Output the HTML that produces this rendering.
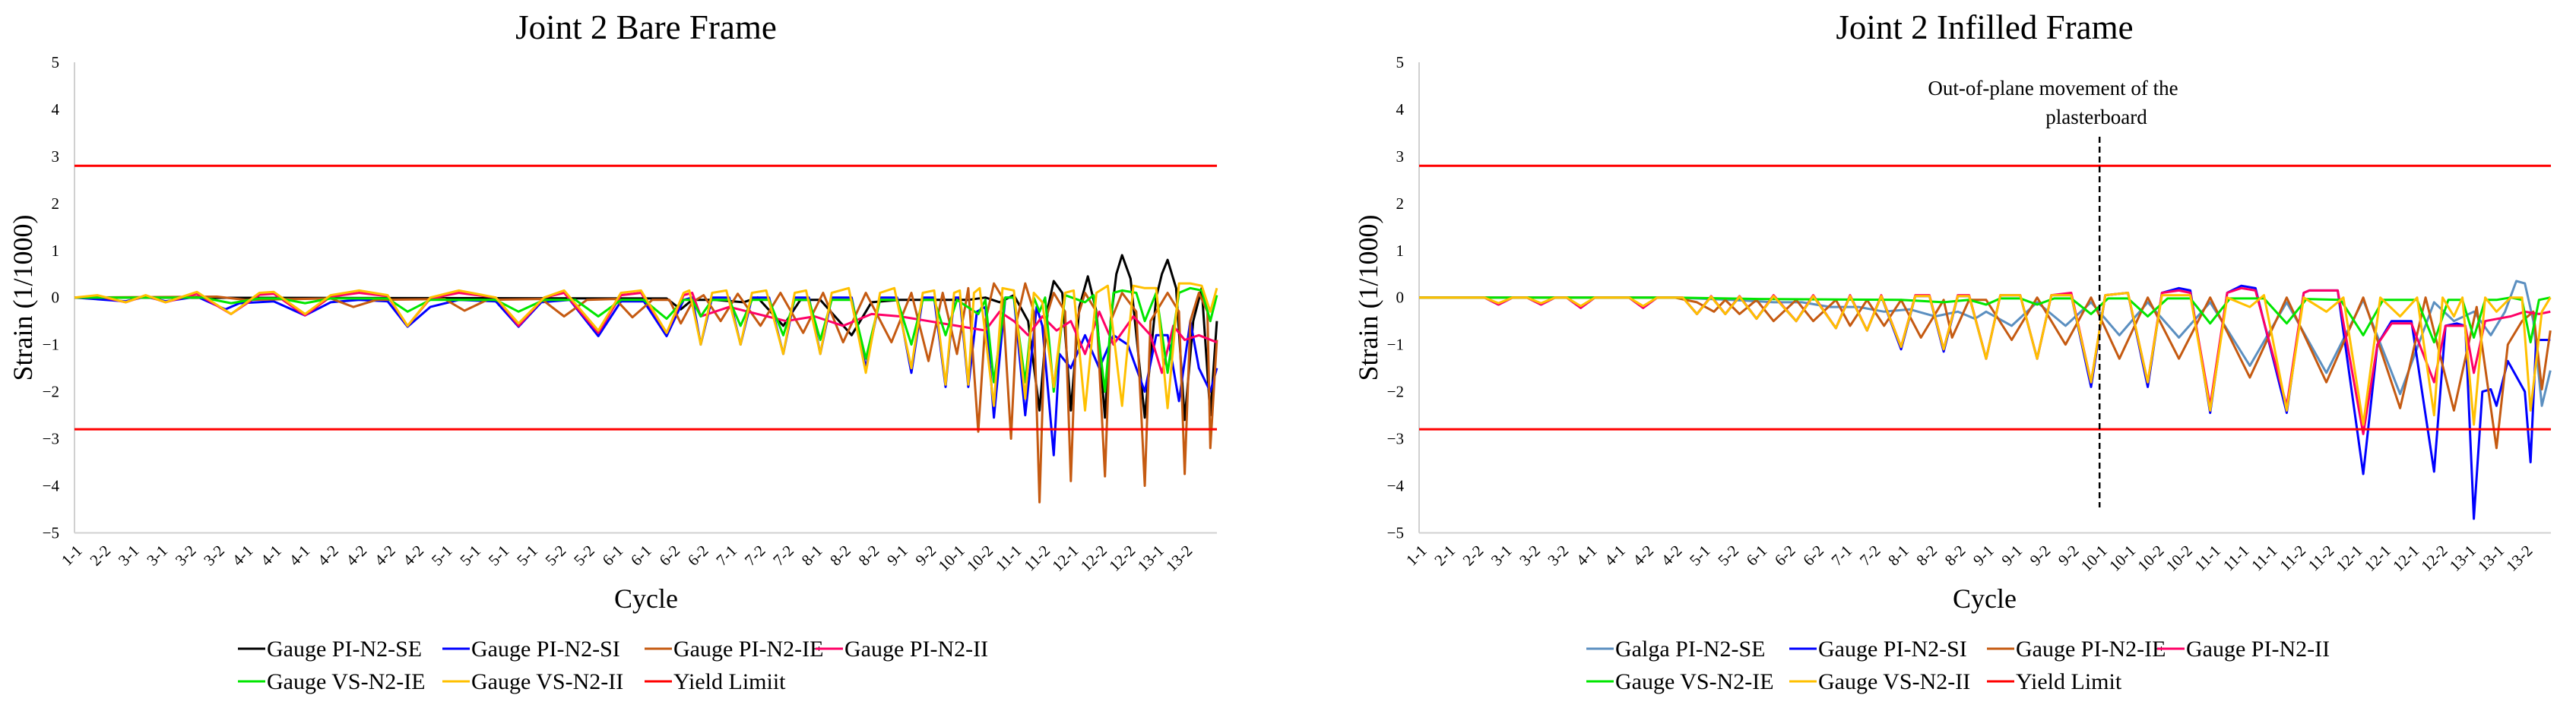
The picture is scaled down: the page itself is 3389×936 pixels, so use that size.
<!DOCTYPE html>
<html><head><meta charset="utf-8">
<style>
html,body{margin:0;padding:0;background:#fff;}
svg{display:block;font-family:"Liberation Serif","Times New Roman",serif;}
</style></head>
<body>
<svg id="fig" width="3389" height="936" viewBox="0 0 3389 936" xmlns="http://www.w3.org/2000/svg">
  <rect x="0" y="0" width="3389" height="936" fill="#fff"/>
  <g id="left">
    <text x="850" y="51" font-size="45" text-anchor="middle">Joint 2 Bare Frame</text>
    <text transform="translate(42,392) rotate(-90)" font-size="36" text-anchor="middle">Strain (1/1000)</text>
    <text x="850" y="800" font-size="36" text-anchor="middle">Cycle</text>
  </g>
  <g id="right">
    <text x="2611" y="51" font-size="45" text-anchor="middle">Joint 2 Infilled Frame</text>
    <text transform="translate(1812,392) rotate(-90)" font-size="36" text-anchor="middle">Strain (1/1000)</text>
    <text x="2611" y="800" font-size="36" text-anchor="middle">Cycle</text>
    <text x="2701" y="125" font-size="27" text-anchor="middle">Out-of-plane movement of the</text>
    <text x="2758" y="163" font-size="27" text-anchor="middle">plasterboard</text>
  </g>
  <g id="legend-left" font-size="30"></g>
  <g id="legend-right" font-size="30"></g>
</svg>
<script>
const NS = "http://www.w3.org/2000/svg";
const leftCats = ["1-1","2-2","3-1","3-1","3-2","3-2","4-1","4-1","4-1","4-2","4-2","4-2","4-2","5-1","5-1","5-1","5-1","5-2","5-2","6-1","6-1","6-2","6-2","7-1","7-2","7-2","8-1","8-2","8-2","9-1","9-2","10-1","10-2","11-1","11-2","12-1","12-2","12-2","13-1","13-2"];
const rightCats = ["1-1","2-1","2-2","3-1","3-2","3-2","4-1","4-1","4-2","4-2","5-1","5-2","6-1","6-2","6-2","7-1","7-2","8-1","8-2","8-2","9-1","9-1","9-2","9-2","10-1","10-1","10-2","10-2","11-1","11-1","11-1","11-2","11-2","12-1","12-1","12-1","12-2","13-1","13-1","13-2"];
const yTicks = [5,4,3,2,1,0,-1,-2,-3,-4,-5];
const yieldLimit = 2.8;
const markerCycle = 24;

const bareSE = [[0,0],[20.8,-0.02],[21.3,-0.25],[21.7,-0.05],[22.5,-0.05],[23.5,-0.1],[24.0,0],[24.9,-0.6],[25.5,-0.05],[26.2,-0.05],[27.3,-0.8],[28,-0.1],[29,-0.05],[30.6,-0.05],[31.4,-0.05],[32,0],[32.5,-0.1],[33.0,0.05],[33.5,-0.5],[33.9,-2.4],[34.2,-0.2],[34.4,0.35],[34.7,0.1],[35.0,-2.4],[35.3,-0.2],[35.6,0.45],[35.9,-0.3],[36.2,-2.55],[36.4,-0.5],[36.6,0.5],[36.8,0.9],[37.1,0.4],[37.6,-2.55],[38.0,0.0],[38.2,0.5],[38.4,0.8],[38.7,0.2],[39.0,-2.6],[39.3,-0.5],[39.6,0.2],[39.9,-2.5],[40.13,-0.5]];
const bareSI = [[0,0],[1.8,-0.08],[2.5,0.02],[3.2,-0.08],[4.3,0.02],[5.3,-0.25],[5.8,-0.12],[7,-0.08],[8.1,-0.38],[9,-0.1],[10,-0.05],[11,-0.08],[11.7,-0.62],[12.5,-0.2],[13.5,-0.05],[14.8,-0.08],[15.6,-0.62],[16.4,-0.1],[17.4,-0.05],[18.4,-0.82],[19.2,-0.08],[20,-0.08],[20.8,-0.82],[21.4,-0.05],[21.7,0],[22.0,-1.0],[22.4,0],[23.0,0],[23.4,-1.0],[23.8,0],[24.4,0],[24.9,-1.2],[25.3,0],[25.8,0],[26.2,-1.2],[26.6,0],[27.3,0],[27.8,-1.5],[28.3,0],[28.9,0],[29.4,-1.6],[29.8,0],[30.2,0],[30.6,-1.9],[30.9,0],[31.1,0],[31.4,-1.9],[31.7,-0.3],[32.0,-0.2],[32.3,-2.55],[32.7,0],[33.0,0],[33.4,-2.5],[33.8,-0.2],[34.0,-0.6],[34.4,-3.35],[34.6,-1.2],[35.0,-1.5],[35.5,-0.8],[36.0,-1.5],[36.5,-0.8],[37.0,-1.0],[37.6,-2.0],[38.0,-0.8],[38.4,-0.8],[38.8,-2.2],[39.2,-0.5],[39.5,-1.5],[39.9,-2.0],[40.13,-1.5]];
const bareIE = [[0,0],[5,0.02],[6,-0.05],[9,-0.02],[9.8,-0.2],[10.6,-0.05],[13,-0.03],[13.7,-0.28],[14.5,-0.05],[16.4,-0.03],[17.2,-0.4],[18.0,-0.05],[19.0,-0.03],[19.6,-0.42],[20.3,-0.05],[20.9,-0.05],[21.3,-0.55],[21.7,-0.1],[22.1,0.05],[22.7,-0.5],[23.3,0.08],[24.1,-0.6],[24.8,0.1],[25.6,-0.75],[26.3,0.1],[27.0,-0.95],[27.8,0.1],[28.7,-0.95],[29.4,0.1],[30.0,-1.35],[30.5,0.1],[31.0,-1.2],[31.4,0.2],[31.75,-2.85],[32.0,-0.5],[32.3,0.3],[32.6,0],[32.9,-3.0],[33.1,-0.5],[33.4,0.3],[33.7,-0.3],[33.9,-4.35],[34.1,-0.5],[34.4,0.1],[34.8,-0.3],[35.0,-3.9],[35.2,-0.5],[35.5,0.1],[35.9,-0.3],[36.2,-3.8],[36.4,-0.5],[36.8,0.1],[37.3,-0.3],[37.6,-4.0],[37.8,-0.5],[38.4,0.1],[38.8,-0.3],[39.0,-3.75],[39.2,-0.5],[39.5,0.1],[39.8,-0.3],[39.9,-3.2],[40.13,-0.9]];
const bareII = [[0,0],[0.8,0.03],[1.8,-0.1],[2.5,0.04],[3.2,-0.1],[4.3,0.08],[5.5,-0.35],[6.5,0.06],[7,0.08],[8.1,-0.38],[9,0.02],[10,0.1],[11,0.03],[11.7,-0.6],[12.5,-0.02],[13.5,0.1],[14.8,0],[15.6,-0.6],[16.5,0],[17.2,0.1],[18.4,-0.75],[19.2,0.05],[19.9,0.1],[20.8,-0.75],[21.4,0.05],[21.7,0.1],[22.0,-0.4],[23.0,-0.2],[24.0,-0.35],[25.0,-0.5],[26.0,-0.4],[27.0,-0.6],[28.0,-0.35],[29.0,-0.4],[30.0,-0.5],[31.0,-0.6],[32.0,-0.7],[32.5,-0.3],[33.0,-0.5],[33.5,-0.8],[34.0,-0.4],[34.5,-0.7],[35.0,-0.5],[35.5,-1.2],[36.0,-0.3],[36.5,-1.0],[37.2,-0.4],[37.8,-0.8],[38.2,-1.6],[38.6,-0.6],[39.0,-0.9],[39.5,-0.8],[40.13,-0.95]];
const bareVSIE = [[0,0],[4.5,0],[5.5,-0.12],[6.5,-0.02],[7.2,-0.02],[8.1,-0.12],[9,-0.02],[11,-0.02],[11.7,-0.3],[12.5,-0.05],[14.8,-0.05],[15.6,-0.3],[16.5,-0.05],[17.6,-0.05],[18.4,-0.4],[19.2,-0.05],[20.0,-0.05],[20.8,-0.45],[21.4,-0.05],[21.7,-0.05],[22.0,-0.4],[22.4,-0.05],[23.0,-0.05],[23.4,-0.6],[23.8,-0.05],[24.4,-0.05],[24.9,-0.8],[25.3,-0.05],[25.8,-0.05],[26.2,-0.9],[26.6,-0.05],[27.3,-0.05],[27.8,-1.3],[28.3,-0.05],[28.9,-0.05],[29.4,-1.0],[29.8,-0.05],[30.2,-0.05],[30.6,-0.8],[31.0,-0.05],[31.75,-0.35],[32.0,-0.05],[32.3,-1.8],[32.7,0.0],[33.0,0.0],[33.4,-1.8],[33.7,0.0],[33.9,-0.3],[34.1,0.0],[34.4,-2.0],[34.8,0.05],[35.5,-0.1],[35.8,0.05],[36.2,-2.0],[36.5,0.1],[36.8,0.15],[37.3,0.1],[37.6,-0.5],[38.0,0.1],[38.4,-1.6],[38.8,0.1],[39.2,0.2],[39.6,0.15],[39.9,-0.5],[40.13,0.05]];
const bareVSII = [[0,0],[0.8,0.05],[1.8,-0.1],[2.5,0.05],[3.2,-0.1],[4.3,0.12],[5.5,-0.35],[6.5,0.1],[7,0.12],[8.1,-0.35],[9,0.05],[10,0.15],[11,0.05],[11.7,-0.6],[12.5,0],[13.5,0.15],[14.8,0],[15.6,-0.55],[16.5,0],[17.2,0.15],[18.4,-0.7],[19.2,0.1],[19.9,0.15],[20.8,-0.75],[21.4,0.1],[21.6,0.15],[22.0,-1.0],[22.4,0.1],[22.9,0.15],[23.4,-1.0],[23.8,0.1],[24.3,0.15],[24.9,-1.2],[25.3,0.1],[25.7,0.15],[26.2,-1.2],[26.6,0.1],[27.2,0.2],[27.8,-1.6],[28.3,0.1],[28.8,0.2],[29.4,-1.5],[29.8,0.1],[30.2,0.15],[30.6,-1.85],[30.9,0.1],[31.1,0.15],[31.4,-1.85],[31.6,0.1],[31.8,0.2],[32.3,-2.3],[32.6,0.2],[33.0,0.15],[33.4,-2.15],[33.7,0.1],[34.0,-0.1],[34.4,-1.9],[34.8,0.1],[35.1,0.15],[35.5,-2.4],[35.9,0.1],[36.3,0.25],[36.8,-2.3],[37.2,0.25],[37.6,0.2],[38.0,0.2],[38.4,-2.35],[38.8,0.3],[39.2,0.3],[39.6,0.25],[39.9,-0.3],[40.13,0.2]];

const infSE = [[0,0],[9,0],[11,-0.05],[12.5,-0.1],[13.5,-0.1],[14.5,-0.2],[15.5,-0.2],[16.4,-0.3],[17.3,-0.25],[18.2,-0.4],[19.0,-0.3],[19.6,-0.45],[20.0,-0.3],[20.9,-0.6],[21.8,-0.1],[22.8,-0.6],[23.7,-0.1],[24.7,-0.8],[25.7,-0.1],[26.8,-0.85],[27.9,-0.1],[29.3,-1.45],[30.6,-0.1],[32.0,-1.6],[33.3,-0.05],[34.6,-2.05],[35.8,-0.1],[36.5,-0.5],[37.2,-0.3],[37.8,-0.8],[38.3,-0.3],[38.7,0.35],[39.0,0.3],[39.3,-0.5],[39.6,-2.3],[39.9,-1.55]];
const infSI = [[0,0],[2.3,0],[2.8,-0.15],[3.3,0],[3.8,0],[4.3,-0.15],[4.8,0],[5.2,0],[5.7,-0.22],[6.2,0],[7.4,0],[7.9,-0.22],[8.4,0],[9.3,0],[9.8,-0.35],[10.3,0.02],[10.8,-0.35],[11.3,0.02],[11.9,-0.45],[12.5,0.03],[13.3,-0.5],[13.9,0.03],[14.7,-0.65],[15.2,0.03],[15.8,-0.7],[16.3,0.03],[17.0,-1.1],[17.5,0.03],[18.0,0.03],[18.5,-1.15],[19.0,0.03],[19.4,0.03],[20.0,-1.3],[20.5,0.05],[21.2,0.05],[21.8,-1.3],[22.3,0.05],[23.0,0.05],[23.7,-1.9],[24.2,0.05],[25.0,0.1],[25.7,-1.9],[26.2,0.1],[26.8,0.2],[27.2,0.15],[27.9,-2.45],[28.5,0.1],[29.0,0.25],[29.5,0.2],[30.6,-2.45],[31.2,0.1],[31.4,0.15],[32.4,0.15],[33.3,-3.75],[33.8,-1.0],[34.3,-0.5],[35.0,-0.5],[35.8,-3.7],[36.2,-0.6],[36.6,-0.55],[36.9,-0.6],[37.2,-4.7],[37.5,-2.0],[37.8,-1.95],[38.0,-2.3],[38.4,-1.35],[39.0,-2.0],[39.2,-3.5],[39.4,-0.9],[39.9,-0.9]];
const infIE = [[0,0],[9,0],[9.8,-0.1],[10.4,-0.3],[10.8,-0.05],[11.3,-0.35],[11.9,-0.05],[12.5,-0.5],[13.3,-0.05],[13.9,-0.5],[14.7,-0.05],[15.2,-0.6],[15.8,-0.05],[16.4,-0.6],[17.0,-0.05],[17.7,-0.85],[18.5,-0.05],[18.8,-0.85],[19.4,-0.05],[20.0,-0.05],[20.9,-0.9],[21.8,0.0],[22.8,-1.0],[23.7,0.0],[24.7,-1.3],[25.7,0.0],[26.8,-1.3],[27.9,0.0],[29.3,-1.7],[30.6,0.0],[32.0,-1.8],[33.3,0.0],[34.6,-2.35],[35.5,0.0],[36.5,-2.4],[37.3,-0.2],[38.0,-3.2],[38.4,-1.0],[38.9,-0.5],[39.3,-0.3],[39.6,-1.95],[39.9,-0.7]];
const infII = [[0,0],[2.3,0],[2.8,-0.15],[3.3,0],[3.8,0],[4.3,-0.15],[4.8,0],[5.2,0],[5.7,-0.22],[6.2,0],[7.4,0],[7.9,-0.22],[8.4,0],[9.3,0],[9.8,-0.35],[10.3,0.03],[10.8,-0.35],[11.3,0.03],[11.9,-0.45],[12.5,0.05],[13.3,-0.5],[13.9,0.05],[14.7,-0.65],[15.2,0.05],[15.8,-0.7],[16.3,0.05],[17.0,-1.05],[17.5,0.05],[18.0,0.05],[18.5,-1.1],[19.0,0.05],[19.4,0.05],[20.0,-1.3],[20.5,0.05],[21.2,0.05],[21.8,-1.3],[22.3,0.05],[23.0,0.1],[23.7,-1.8],[24.2,0.05],[25.0,0.1],[25.7,-1.8],[26.2,0.1],[26.8,0.15],[27.2,0.1],[27.9,-2.3],[28.5,0.1],[29.0,0.2],[29.5,0.15],[30.6,-2.3],[31.2,0.1],[31.4,0.15],[32.4,0.15],[33.3,-2.9],[33.8,-1.0],[34.3,-0.55],[35.0,-0.55],[35.8,-1.8],[36.2,-0.6],[36.9,-0.6],[37.2,-1.6],[37.6,-0.5],[38.5,-0.4],[39.0,-0.3],[39.5,-0.35],[39.9,-0.3]];
const infVSIE = [[0,0],[9,0],[12,-0.03],[17,-0.05],[18.5,-0.1],[19.4,-0.05],[20.0,-0.15],[20.5,-0.02],[21.2,-0.02],[21.8,-0.15],[22.4,-0.02],[23.0,-0.02],[23.7,-0.35],[24.3,-0.02],[25.0,-0.02],[25.7,-0.4],[26.4,-0.02],[27.2,-0.02],[27.9,-0.55],[28.6,-0.02],[29.8,-0.02],[30.6,-0.55],[31.3,-0.03],[32.5,-0.05],[33.3,-0.8],[34.0,-0.05],[35.2,-0.05],[35.8,-0.95],[36.3,-0.05],[36.8,-0.05],[37.2,-0.85],[37.6,-0.05],[38.0,-0.05],[38.5,0.0],[38.9,-0.05],[39.2,-0.95],[39.5,-0.05],[39.9,0.0]];
const infVSII = [[0,0],[2.3,0],[2.8,-0.12],[3.3,0],[3.8,0],[4.3,-0.12],[4.8,0],[5.2,0],[5.7,-0.18],[6.2,0],[7.4,0],[7.9,-0.18],[8.4,0],[9.3,0],[9.8,-0.35],[10.3,0.02],[10.8,-0.35],[11.3,0.02],[11.9,-0.45],[12.5,0.03],[13.3,-0.5],[13.9,0.03],[14.7,-0.65],[15.2,0.03],[15.8,-0.7],[16.3,0.03],[17.0,-1.05],[17.5,0.03],[18.0,0.03],[18.5,-1.1],[19.0,0.03],[19.4,0.03],[20.0,-1.3],[20.5,0.05],[21.2,0.05],[21.8,-1.3],[22.3,0.05],[23.0,0.05],[23.7,-1.8],[24.2,0.05],[25.0,0.1],[25.7,-1.8],[26.2,0.05],[27.2,0.05],[27.9,-2.4],[28.5,0.0],[29.3,-0.2],[29.8,0.05],[30.6,-2.4],[31.2,0.0],[32.0,-0.3],[32.6,0.0],[33.3,-2.7],[33.9,0.0],[34.6,-0.4],[35.2,0.0],[35.8,-2.5],[36.1,0.0],[36.5,-0.4],[36.8,0.0],[37.2,-2.7],[37.6,0.0],[38.0,-0.3],[38.5,0.0],[38.9,0.0],[39.2,-2.4],[39.6,-0.3],[39.9,0.0]];

const bareNames = ["Gauge PI-N2-SE","Gauge PI-N2-SI","Gauge PI-N2-IE","Gauge PI-N2-II","Gauge VS-N2-IE","Gauge VS-N2-II","Yield Limiit"];
const infNames = ["Galga PI-N2-SE","Gauge PI-N2-SI","Gauge PI-N2-IE","Gauge PI-N2-II","Gauge VS-N2-IE","Gauge VS-N2-II","Yield Limit"];

const svg = document.getElementById('fig');
function yScale(v){ return 391.7 - v * 61.95; }
function xLeft(i){ return 98 + i * 37.45; }
function xRight(i){ return 1867 + i * 37.3; }

function mk(tag, attrs, parent){
  const e = document.createElementNS(NS, tag);
  for (const k in attrs) e.setAttribute(k, attrs[k]);
  parent.appendChild(e);
  return e;
}

function drawChart(g, xs, x0, x1, cats, labelX, seriesList, colors, keys, marker){
  yTicks.forEach(function(t){
    const tx = mk('text', {x: labelX, y: yScale(t) + 7, 'font-size': 21, 'text-anchor': 'end', fill: '#000'}, g);
    
    
    tx.textContent = t < 0 ? '\u2212' + Math.abs(t) : String(t);
  });
  const ax = mk('line', {x1: x0, y1: yScale(5), x2: x0, y2: yScale(-5), stroke: '#d0d0d0', 'stroke-width': 2}, g);
  
  
  const bx = mk('line', {x1: x0, y1: yScale(-5), x2: x1, y2: yScale(-5), stroke: '#d0d0d0', 'stroke-width': 2}, g);
  
  
  cats.forEach(function(c, i){
    const px = xs(i) + 6;
    const tx = mk('text', {transform: 'translate(' + px + ',721) rotate(-45)', 'font-size': 21, 'text-anchor': 'end', dy: '0.35em', fill: '#000'}, g);
    
    
    tx.textContent = c;
  });
  seriesList.forEach(function(s, k){
    const d = s.map(function(p, j){ return (j ? 'L' : 'M') + xs(p[0]).toFixed(1) + ' ' + yScale(p[1]).toFixed(1); }).join(' ');
    const path = mk('path', {d: d, fill: 'none', stroke: colors[k], 'stroke-width': 3, 'stroke-linejoin': 'round'}, g);
    
    
  });
  [yieldLimit, -yieldLimit].forEach(function(v, k){
    const l = mk('line', {x1: x0, x2: x1, y1: yScale(v), y2: yScale(v), stroke: '#ff0000', 'stroke-width': 3}, g);
    
    
  });
  if (marker !== null) {
    const m = mk('line', {x1: xs(marker), x2: xs(marker), y1: 180, y2: 668, stroke: '#000', 'stroke-width': 2.5, 'stroke-dasharray': '8,5'}, g);
    
    
  }
}

const bareColors = ['#000000','#0000ff','#c55a11','#ff0066','#00e600','#ffc000'];
const infColors = ['#5b8fc0','#0000ff','#c55a11','#ff0066','#00e600','#ffc000'];
const keysA = ['pi-n2-se','pi-n2-si','pi-n2-ie','pi-n2-ii','vs-n2-ie','vs-n2-ii'];

drawChart(document.getElementById('left'), xLeft, 98, 1601, leftCats, 78,
  [bareSE, bareSI, bareIE, bareII, bareVSIE, bareVSII], bareColors, keysA, null);
drawChart(document.getElementById('right'), xRight, 1867, 3356, rightCats, 1847,
  [infSE, infSI, infIE, infII, infVSIE, infVSII], infColors, keysA, markerCycle);

function legend(g, names, colors, pos){
  names.forEach(function(n, i){
    const p = pos[i];
    const li = mk('g', {}, g);
    
    
    mk('line', {x1: p[0], x2: p[0] + 36, y1: p[1], y2: p[1], stroke: colors[i], 'stroke-width': 3}, li);
    const t = mk('text', {x: p[0] + 38, y: p[1] + 10, fill: '#000'}, li);
    t.textContent = n;
  });
}
legend(document.getElementById('legend-left'), bareNames, bareColors.concat(['#ff0000']),
  [[313,854],[582,854],[848,854],[1073,854],[313,897],[582,897],[848,897]]);
legend(document.getElementById('legend-right'), infNames, infColors.concat(['#ff0000']),
  [[2087,854],[2354,854],[2614,854],[2838,854],[2087,897],[2354,897],[2614,897]]);
</script>
</body></html>
